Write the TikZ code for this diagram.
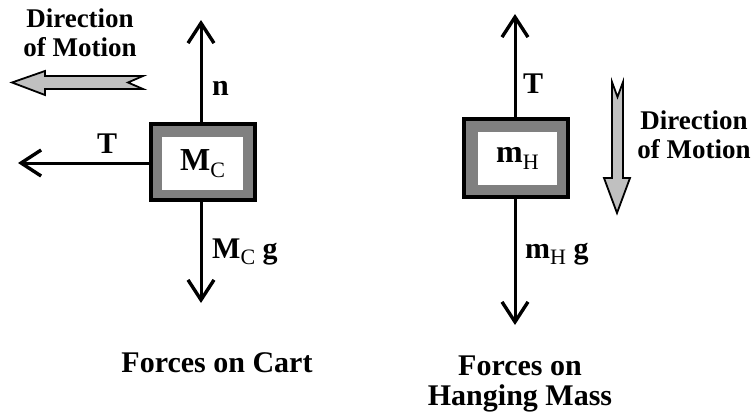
\documentclass[tikz,border=0pt]{standalone}
\usepackage{fontspec}
\setmainfont{Liberation Serif}
\usetikzlibrary{arrows.meta}
\definecolor{framegray}{HTML}{808080}
\definecolor{arrowgray}{HTML}{C0C0C0}
\newcommand{\lowsub}[1]{\raisebox{-0.2em}{\fontsize{22}{22}\mdseries\selectfont #1}}
\begin{document}
\begin{tikzpicture}[x=1pt,y=-1pt,
  force/.style={line width=3pt,-{Straight Barb[length=20pt,width=26pt,line width=3.4pt]}},
  lbl/.style={font=\fontsize{30}{30}\bfseries\selectfont, inner sep=0pt, anchor=base west},
  capt/.style={font=\fontsize{30}{30}\bfseries\selectfont, inner sep=0pt, align=center},
  dirtxt/.style={font=\fontsize{27}{29}\bfseries\selectfont, inner sep=0pt, align=center},
  massout/.style={draw=black, line width=4pt, fill=framegray, inner sep=0pt},
  massin/.style={fill=white, draw=none, inner sep=0pt, font=\fontsize{32}{32}\bfseries\selectfont},
  motion/.style={draw=black, line width=1.8pt, fill=arrowgray, line join=miter}]
\useasboundingbox (0,0) rectangle (753,415);

% cart
\node[massout, minimum width=104pt, minimum height=76pt] (cart) at (203,162) {};
\node[massin, minimum width=81pt, minimum height=53pt] (cartin) at (202.5,163.5) {M\lowsub{C}};
\coordinate (cartn) at (201,20);
\coordinate (carts) at (201,303);
\coordinate (cartw) at (18,163);
\draw[force] (cart.north -| cartn) -- (cartn);
\draw[force] (cart.south -| carts) -- (carts);
\draw[force] (cart.west |- cartw) -- (cartw);
\node[lbl] (nlab) at (212,95) {n};
\node[lbl] (tlab) at (97,153) {T};
\node[lbl] (mglab) at (212,258) {M\lowsub{C} g};

% hanging mass
\node[massout, minimum width=104pt, minimum height=78pt] (hang) at (516,158) {};
\node[massin, minimum width=79pt, minimum height=53pt] (hangin) at (517.5,158.5) {m\lowsub{H}};
\coordinate (hangn) at (515,14);
\coordinate (hangs) at (515,325);
\draw[force] (hang.north -| hangn) -- (hangn);
\draw[force] (hang.south -| hangs) -- (hangs);
\node[lbl] (t2lab) at (523,93) {T};
\node[lbl] (mhlab) at (525,258) {m\lowsub{H} g};

% direction of motion (cart)
\node[dirtxt] (dir1) at (80,33) {Direction\\of Motion};
\draw[motion] (12,82.5) -- (45,71) -- (45,76) -- (143,76) -- (128,82.5) -- (143,89) -- (45,89) -- (45,95) -- cycle;

% direction of motion (hanging)
\node[dirtxt] (dir2) at (694,135) {Direction\\of Motion};
\draw[motion] (612,82) -- (617.5,97) -- (623,82) -- (623,178) -- (630,178) -- (617,213) -- (604,178) -- (612,178) -- cycle;

% captions
\node[capt, anchor=base] (cap1) at (217,372) {Forces on Cart};
\node[capt, anchor=base] (cap2) at (520,375) {Forces on};
\node[capt, anchor=base] (cap3) at (520,405) {Hanging Mass};
\end{tikzpicture}
\end{document}
